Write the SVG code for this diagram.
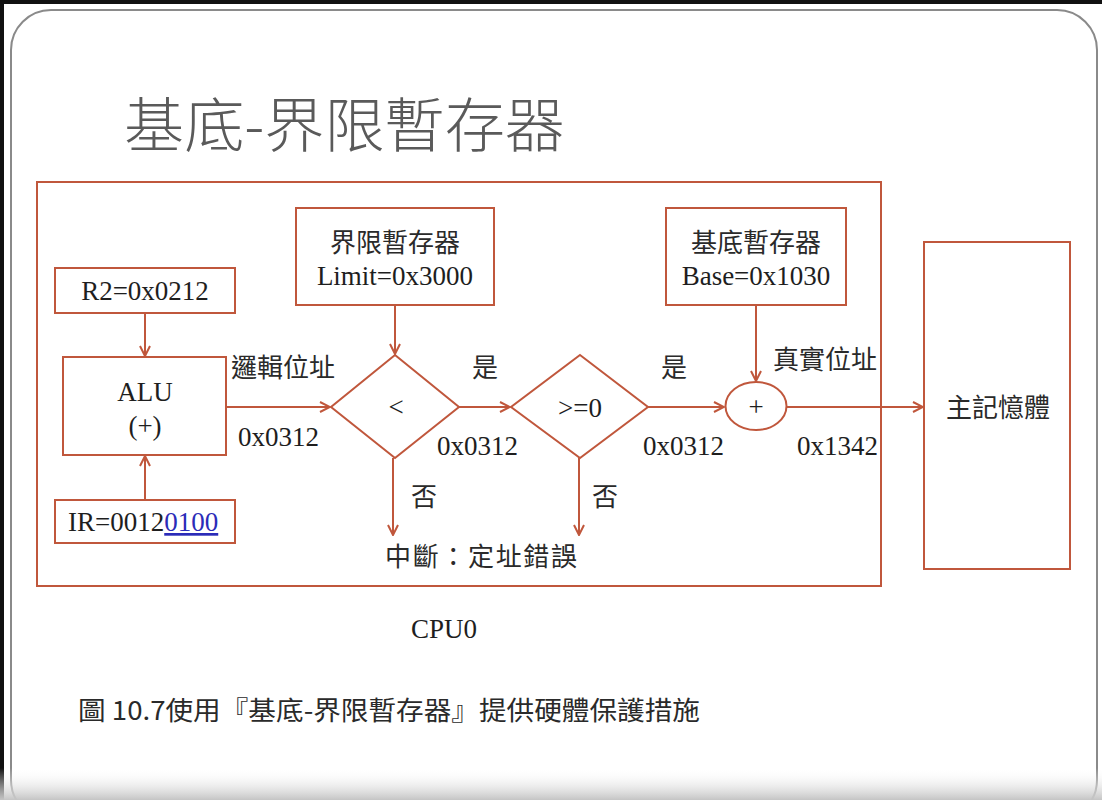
<svg xmlns="http://www.w3.org/2000/svg" width="1102" height="800" viewBox="0 0 1102 800">
  <style>
    .box { fill: #ffffff; stroke: #c0573c; stroke-width: 2; }
    .wire { fill: none; stroke: #c0573c; stroke-width: 2; }
    .lat { font-family: "Liberation Serif", "Times New Roman", serif; font-size: 27px; fill: #1e1e1e; }
    .cjk { font-family: "Noto Sans CJK TC", "Noto Sans", sans-serif; font-size: 26px; fill: #2a2a2a; }
    .mid { text-anchor: middle; }
  </style>
  <defs>
    <marker id="arrow" viewBox="0 0 12 12" refX="11" refY="6" markerWidth="12" markerHeight="12" markerUnits="userSpaceOnUse" orient="auto">
      <polyline points="1,1 11,6 1,11" fill="none" stroke="#c0573c" stroke-width="2"/>
    </marker>
    <linearGradient id="fade" x1="0" y1="0" x2="0" y2="1">
      <stop offset="0" stop-color="#ffffff" stop-opacity="0"/>
      <stop offset="1" stop-color="#c4c4c4"/>
    </linearGradient>
  </defs>

  <!-- backdrop and slide frame -->
  <rect x="0" y="0" width="1102" height="800" fill="#ffffff"/>
  <rect x="0" y="0" width="1102" height="4" fill="#111111"/>
  <rect x="0" y="0" width="4" height="800" fill="#111111"/>
  <rect x="11" y="10" width="1086" height="810" rx="40" ry="40" fill="#ffffff" stroke="#8a8a8a" stroke-width="2"/>

  <!-- slide title -->
  <text x="124" y="147" font-family="'Noto Sans CJK TC', 'Noto Sans', sans-serif" font-size="59" font-weight="300" fill="#5a5a5a" textLength="441" lengthAdjust="spacingAndGlyphs">基底-界限暫存器</text>

  <!-- CPU enclosure -->
  <g id="cpu">
    <rect x="37" y="182" width="844" height="404" fill="none" stroke="#c0573c" stroke-width="2"/>
    <text class="lat mid" x="444" y="638" font-size="25">CPU0</text>
  </g>

  <g id="r2">
    <rect class="box" x="55" y="268" width="180" height="45"/>
    <text class="lat mid" x="145" y="300">R2=0x0212</text>
  </g>

  <g id="alu">
    <rect class="box" x="63" y="357" width="163" height="98"/>
    <text class="lat mid" x="145" y="401" font-size="28">ALU</text>
    <text class="lat mid" x="145" y="435" font-size="28">(+)</text>
  </g>

  <g id="ir">
    <rect class="box" x="55" y="500" width="180" height="43"/>
    <text class="lat" x="68" y="531">IR=0012<tspan fill="#2b2bb8" text-decoration="underline">0100</tspan></text>
  </g>

  <g id="limit">
    <rect class="box" x="296" y="208" width="198" height="97"/>
    <text class="cjk mid" x="395" y="252">界限暫存器</text>
    <text class="lat mid" x="395" y="285">Limit=0x3000</text>
  </g>

  <g id="cmp-limit">
    <polygon class="box" points="395,355 459,407 395,458 331,407"/>
    <text class="lat mid" x="396" y="416" font-size="30">&lt;</text>
  </g>

  <g id="cmp-zero">
    <polygon class="box" points="580,355 648,407 580,458 511,407"/>
    <text class="lat mid" x="580" y="417" font-size="28">&gt;=0</text>
  </g>

  <g id="base">
    <rect class="box" x="666" y="208" width="180" height="97"/>
    <text class="cjk mid" x="756" y="252">基底暫存器</text>
    <text class="lat mid" x="756" y="285">Base=0x1030</text>
  </g>

  <g id="adder">
    <ellipse class="box" cx="756" cy="406" rx="30.5" ry="24"/>
    <text class="lat mid" x="756" y="416" font-size="27">+</text>
  </g>

  <g id="memory">
    <rect class="box" x="924" y="242" width="146" height="327"/>
    <text class="cjk mid" x="998" y="417">主記憶體</text>
  </g>

  <g id="trap">
    <text class="cjk" x="385" y="566" textLength="192" lengthAdjust="spacing">中斷：定址錯誤</text>
  </g>

  <!-- connectors -->
  <g id="connectors">
    <line class="wire" x1="145" y1="313" x2="145" y2="356" marker-end="url(#arrow)"/>
    <line class="wire" x1="145" y1="500" x2="145" y2="456" marker-end="url(#arrow)"/>
    <line class="wire" x1="226" y1="407" x2="330" y2="407" marker-end="url(#arrow)"/>
    <line class="wire" x1="395" y1="305" x2="395" y2="354" marker-end="url(#arrow)"/>
    <line class="wire" x1="459" y1="407" x2="510" y2="407" marker-end="url(#arrow)"/>
    <line class="wire" x1="648" y1="407" x2="724" y2="407" marker-end="url(#arrow)"/>
    <line class="wire" x1="756" y1="305" x2="756" y2="381" marker-end="url(#arrow)"/>
    <line class="wire" x1="786.5" y1="407" x2="923" y2="407" marker-end="url(#arrow)"/>
    <line class="wire" x1="393" y1="458" x2="393" y2="535" marker-end="url(#arrow)"/>
    <line class="wire" x1="579" y1="458" x2="579" y2="535" marker-end="url(#arrow)"/>

    <text class="cjk" x="231" y="377">邏輯位址</text>
    <text class="lat" x="238" y="446">0x0312</text>
    <text class="cjk" x="472" y="377">是</text>
    <text class="lat" x="437" y="455">0x0312</text>
    <text class="cjk" x="411" y="506">否</text>
    <text class="cjk" x="661" y="377">是</text>
    <text class="lat" x="643" y="455">0x0312</text>
    <text class="cjk" x="592" y="506">否</text>
    <text class="cjk" x="773" y="369">真實位址</text>
    <text class="lat" x="797" y="455" font-size="28">0x1342</text>
  </g>

  <!-- figure caption -->
  <text x="78" y="720" font-family="'Noto Sans CJK TC', 'Noto Sans', sans-serif" font-size="26" fill="#2a2a2a" textLength="622" lengthAdjust="spacingAndGlyphs">圖 10.7使用『基底-界限暫存器』提供硬體保護措施</text>

  <!-- lower edge shading -->
  <rect x="0" y="768" width="1102" height="32" fill="url(#fade)"/>
</svg>
